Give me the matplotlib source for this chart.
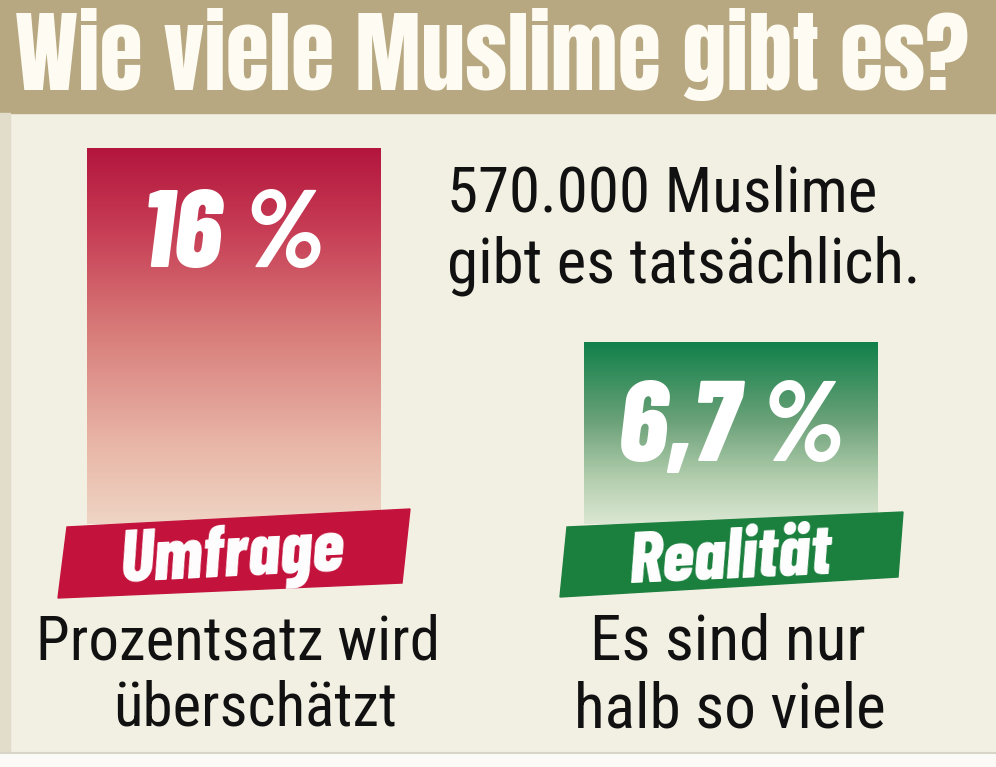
import matplotlib
matplotlib.use('Agg')
import matplotlib.pyplot as plt
import numpy as np
from matplotlib.patches import Rectangle, Polygon
from matplotlib.colors import LinearSegmentedColormap

# === Data ===
TITLE = 'Wie viele Muslime gibt es?'
CATEGORIES = ['Umfrage', 'Realität']
VALUES = [16.0, 6.7]
VALUE_LABELS = ['16 %', '6,7 %']
NOTES = [['Prozentsatz wird', 'überschätzt'], ['Es sind nur', 'halb so viele']]
INFO = ['570.000 Muslime', 'gibt es tatsächlich.']

# === Style ===
W, H = 996, 767
BG = '#f2efe3'
HEADER = '#b7a881'
BANNER_COLORS = ['#c3123b', '#1b7f3e']
GRADIENTS = [
    [(0.0, '#efd4c4'), (0.2, '#e9b8a8'), (0.52, '#d77a78'), (0.78, '#c73d55'), (1.0, '#b3153d')],
    [(0.0, '#dbe7d3'), (0.24, '#b5cfaf'), (0.57, '#6aa178'), (1.0, '#10804a')],
]
HEAVY = ['Anton', 'Oswald', 'IBM Plex Sans Condensed', 'DejaVu Sans']
BOLD_COND = ['Barlow Condensed', 'Roboto Condensed', 'IBM Plex Sans Condensed', 'DejaVu Sans']
BODY = ['Roboto Condensed', 'IBM Plex Sans Condensed', 'Open Sans', 'DejaVu Sans']

# bar layout (pixels, y measured from top)
X0_PX, X_STEP_PX = 233.5, 497.0
Y0_PX, PX_PER_UNIT = 482.0, 20.9
BAR_WIDTH = 0.59
PAD = 2.0  # bar runs a little below zero, under the banner
LABEL_DROP = 5.7
PCT_WIDTH = [182, 226]

# banner corners (pixels)
BANNERS = [
    [(67, 527), (410, 509), (402, 583), (58, 598)],
    [(567, 527), (903, 512), (898, 577), (560, 597)],
]
BANNER_TEXT = [((233, 576), 228, 3.0), ((731, 578), 206, 2.6)]


def fit(t, width_px):
    r = fig.canvas.get_renderer()
    w = t.get_window_extent(r).width
    t.set_fontsize(t.get_fontsize() * width_px / w)


fig = plt.figure(figsize=(W / 100, H / 100), dpi=100, facecolor=BG)

# bars axes
ax_b = fig.add_axes([0, 0, 1, 1], zorder=1)
ax_b.set_facecolor('none')
ax_b.axis('off')
x = np.arange(len(VALUES))
bars = ax_b.bar(x, [v + PAD for v in VALUES], bottom=-PAD, width=BAR_WIDTH,
                color='none', edgecolor='none')
for i, (bar, v) in enumerate(zip(bars, VALUES)):
    cmap = LinearSegmentedColormap.from_list('g%d' % i, GRADIENTS[i])
    grad = np.linspace(0, 1, 256).reshape(-1, 1)
    x0 = bar.get_x()
    im = ax_b.imshow(grad, cmap=cmap, origin='lower', aspect='auto',
                     extent=[x0, x0 + bar.get_width(), -PAD, v], zorder=1)
    im.set_clip_path(bar)
ax_b.set_xlim(-X0_PX / X_STEP_PX, (W - X0_PX) / X_STEP_PX)
ax_b.set_ylim((Y0_PX - H) / PX_PER_UNIT, Y0_PX / PX_PER_UNIT)

pct_texts = []
for i, (v, lab) in enumerate(zip(VALUES, VALUE_LABELS)):
    t = ax_b.text(i, v - LABEL_DROP, lab, ha='center', va='baseline', color='white',
                  fontsize=60, fontweight='heavy', fontstyle='italic', family=BOLD_COND, zorder=3)
    pct_texts.append(t)

# decoration axes, pixel coordinates
ax_d = fig.add_axes([0, 0, 1, 1], zorder=2)
ax_d.set_facecolor('none')
ax_d.axis('off')
ax_d.set_xlim(0, W)
ax_d.set_ylim(H, 0)

ax_d.add_patch(Rectangle((0, 0), W, 113, color=HEADER, zorder=1))
ax_d.add_patch(Rectangle((0, 113), 10, 640, color='#e2dccb', zorder=1))
ax_d.add_patch(Rectangle((0, 753), W, 14, color='#fbfaf6', zorder=1))
ax_d.plot([0, W], [753, 753], color='#d8d4c8', lw=1.5, zorder=2)

title = ax_d.text(15, 90, TITLE, ha='left', va='baseline', color='#fdfbf2',
                  fontsize=70, family=HEAVY, zorder=3)

for i, pts in enumerate(BANNERS):
    ax_d.add_patch(Polygon(pts, closed=True, color=BANNER_COLORS[i], zorder=2))

banner_texts = []
for i, cat in enumerate(CATEGORIES):
    (cx, cy), wpx, rot = BANNER_TEXT[i]
    t = ax_d.text(cx, cy, cat, ha='center', va='baseline', rotation=rot,
                  rotation_mode='anchor', color='white', fontsize=40,
                  fontweight='heavy', fontstyle='italic', family=BOLD_COND, zorder=3)
    banner_texts.append((t, wpx))

info1 = ax_d.text(447, 212, INFO[0], ha='left', va='baseline', color='#111111',
                  fontsize=45, family=BODY, zorder=3)
info2 = ax_d.text(447, 282, INFO[1], ha='left', va='baseline', color='#111111',
                  fontsize=45, family=BODY, zorder=3)

note_pos = [[(238.5, 660), (255.5, 726)], [(728, 660), (729.5, 727)]]
note_width = [403, 311]  # widest line of each group
note_groups = []
for i, lines in enumerate(NOTES):
    grp = []
    for j, line in enumerate(lines):
        cx, by = note_pos[i][j]
        t = ax_d.text(cx, by, line, ha='center', va='baseline', color='#111111',
                      fontsize=45, family=BODY, zorder=3)
        grp.append(t)
    note_groups.append(grp)

fig.canvas.draw()
fit(title, 955)
for t, wpx in zip(pct_texts, PCT_WIDTH):
    fit(t, wpx)
for t, wpx in banner_texts:
    fit(t, wpx)
fit(info2, 473)
info1.set_fontsize(info2.get_fontsize())
for i, grp in enumerate(note_groups):
    r = fig.canvas.get_renderer()
    widest = max(grp, key=lambda t: t.get_window_extent(r).width)
    fit(widest, note_width[i])
    for t in grp:
        t.set_fontsize(widest.get_fontsize())

fig.savefig('out.png', dpi=100, facecolor=BG)
plt.close(fig)
